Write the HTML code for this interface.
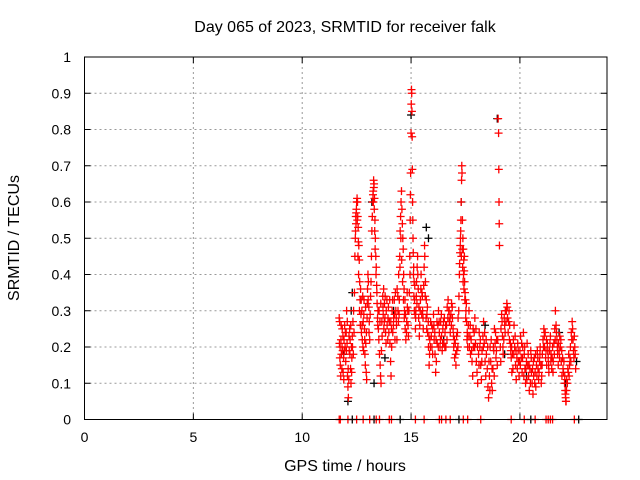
<!DOCTYPE html>
<html><head><meta charset="utf-8"><style>
body{margin:0;background:#fff}
svg{display:block;font-family:"Liberation Sans",sans-serif}
</style></head><body>
<svg id="chart" width="640" height="480" viewBox="0 0 640 480">
<rect width="640" height="480" fill="#fff"/>
<text x="345" y="32" font-size="16" text-anchor="middle">Day 065 of 2023, SRMTID for receiver falk</text>
<text transform="translate(19,238) rotate(-90)" font-size="16" text-anchor="middle">SRMTID / TECUs</text>
<text x="345" y="471" font-size="16" text-anchor="middle">GPS time / hours</text>
<g id="grid"></g>
<g id="ticks"></g>
<g id="black"></g>
<g id="red"></g>
<rect x="84.5" y="57" width="522.5" height="362.5" fill="none" stroke="#000" stroke-width="1"/>
</svg>
<script>
const xTicks=[0,5,10,15,20];
const yTicks=[0,0.1,0.2,0.3,0.4,0.5,0.6,0.7,0.8,0.9,1];
const yTickLabels=["0","0.1","0.2","0.3","0.4","0.5","0.6","0.7","0.8","0.9","1"];
const redPoints=[[11.70,.28],[11.72,.27],[11.74,.2],[11.75,.15],[11.77,.12],[11.78,.22],[11.80,.18],[11.82,.14],[11.84,.25],[11.86,.19],[11.88,.13],[11.90,.17],[11.92,.22],[11.95,.26],[11.97,.2],[12.0,.16],[12.02,.24],[12.04,.3],[12.06,.21],[12.08,.12],[12.1,.09],[12.12,.06],[12.14,.11],[12.16,.19],[12.18,.25],[12.2,.22],[12.22,.14],[12.24,.1],[12.26,.2],[12.28,.17],[12.3,.23],[12.33,.27],[12.36,.3],[12.38,.24],
[12.40,.35],[12.42,.45],[12.44,.5],[12.45,.52],[12.46,.56],[12.47,.54],[12.48,.57],[12.5,.6],[12.52,.61],[12.54,.6],[12.55,.56],[12.57,.53],[12.58,.49],[12.6,.48],[12.62,.44],[12.64,.38],[12.66,.33],[12.68,.36],[12.7,.29],[12.72,.24],
[12.74,.3],[12.76,.22],[12.78,.34],[12.8,.27],[12.82,.19],[12.84,.33],[12.86,.25],[12.88,.18],[12.9,.15],[12.92,.21],[12.94,.13],[12.96,.11],[12.98,.28],[13.0,.36],[13.02,.4],[13.04,.38],[13.06,.31],[13.08,.27],[13.1,.22],
[13.12,.29],[13.14,.34],[13.16,.38],[13.18,.45],[13.2,.52],[13.22,.56],[13.24,.6],[13.26,.63],[13.28,.66],[13.3,.65],[13.32,.61],[13.34,.55],[13.36,.5],[13.38,.45],[13.4,.42],[13.42,.37],[13.44,.32],[13.46,.28],[13.48,.3],[13.5,.25],
[13.52,.22],[13.55,.18],[13.58,.15],[13.6,.12],[13.62,.1],[13.64,.19],[13.66,.27],[13.7,.34],[13.72,.29],[13.75,.25],[13.78,.32],[13.8,.28],[13.83,.24],[13.86,.3],[13.9,.26],[13.93,.22],[13.96,.31],[14.0,.27],[14.03,.21],[14.06,.16],[14.08,.12],[14.1,.25],[14.13,.3],[14.16,.24],[14.2,.28],
[14.23,.33],[14.26,.22],[14.3,.3],[14.33,.26],[14.36,.36],[14.4,.3],[14.43,.4],[14.46,.33],[14.48,.45],[14.5,.52],[14.52,.56],[14.54,.6],[14.56,.63],[14.58,.58],[14.6,.54],[14.62,.5],[14.64,.47],[14.66,.4],[14.68,.36],[14.7,.3],[14.73,.25],[14.76,.22],[14.8,.27],[14.83,.31],[14.86,.26],[14.9,.3],
[14.92,.35],[14.94,.45],[14.96,.55],[14.98,.68],[15.0,.79],[15.01,.87],[15.02,.91],[15.03,.9],[15.04,.85],[15.05,.78],[15.06,.69],[15.07,.6],[15.08,.55],[15.09,.5],[15.1,.46],[15.12,.42],[15.14,.38],[15.16,.33],[15.18,.29],[15.2,.25],
[15.22,.3],[15.25,.38],[15.28,.42],[15.3,.45],[15.33,.36],[15.36,.31],[15.4,.26],[15.43,.33],[15.46,.4],[15.5,.35],[15.53,.3],[15.56,.25],[15.6,.42],[15.63,.45],[15.66,.38],[15.7,.33],[15.73,.29],[15.76,.24],[15.8,.2],[15.83,.15],[15.86,.22],
[15.9,.27],[15.93,.23],[15.96,.2],[16.0,.25],[16.03,.29],[16.06,.22],[16.1,.18],[16.13,.13],[16.16,.16],[16.2,.21],[16.23,.26],[16.26,.3],[16.3,.24],[16.33,.2],[16.36,.27],[16.4,.23],[16.43,.19],[16.46,.25],[16.5,.21],[16.53,.28],[16.56,.24],[16.6,.2],
[16.63,.26],[16.66,.31],[16.7,.33],[16.73,.3],[16.76,.27],[16.8,.24],[16.83,.29],[16.86,.32],[16.9,.28],[16.93,.25],[16.96,.2],[17.0,.17],[17.03,.21],[17.06,.15],[17.1,.19],[17.13,.24],[17.16,.28],[17.2,.34],
[17.22,.4],[17.25,.46],[17.27,.5],[17.29,.55],[17.3,.6],[17.32,.66],[17.33,.7],[17.34,.68],[17.36,.55],[17.38,.5],[17.4,.47],[17.42,.44],[17.44,.41],[17.46,.38],[17.48,.35],[17.5,.33],[17.52,.3],[17.55,.27],[17.58,.24],[17.6,.2],
[17.63,.26],[17.66,.3],[17.7,.23],[17.73,.18],[17.76,.22],[17.8,.16],[17.83,.12],[17.86,.2],[17.9,.24],[17.93,.28],[17.96,.21],[18.0,.16],[18.03,.13],[18.06,.1],[18.1,.18],[18.13,.24],[18.16,.2],[18.2,.15],[18.23,.11],[18.26,.19],[18.3,.23],[18.33,.27],[18.36,.21],[18.4,.16],[18.43,.12],
[18.46,.18],[18.5,.14],[18.53,.09],[18.56,.06],[18.6,.12],[18.63,.2],[18.66,.16],[18.7,.1],[18.73,.08],[18.76,.14],[18.8,.19],[18.83,.25],[18.86,.21],[18.9,.17],[18.93,.22],[18.96,.15],
[19.0,.83],[19.02,.79],[19.03,.69],[19.04,.6],[19.05,.54],[19.06,.48],
[19.1,.2],[19.13,.25],[19.16,.29],[19.2,.23],[19.23,.18],[19.26,.22],[19.3,.26],[19.33,.3],[19.36,.27],[19.4,.32],[19.43,.28],[19.46,.24],[19.5,.3],[19.53,.26],[19.56,.21],[19.6,.17],[19.63,.13],[19.66,.18],[19.7,.22],[19.73,.26],[19.76,.2],[19.8,.15],[19.83,.11],[19.86,.17],[19.9,.21],[19.93,.16],[19.96,.12],
[20.0,.19],[20.03,.23],[20.06,.17],[20.1,.13],[20.13,.2],[20.16,.24],[20.2,.18],[20.23,.14],[20.26,.1],[20.3,.16],[20.33,.21],[20.36,.15],[20.4,.12],[20.43,.08],[20.46,.14],[20.5,.19],[20.53,.13],[20.56,.1],[20.6,.07],[20.63,.12],[20.66,.17],[20.7,.13],[20.73,.09],[20.76,.15],[20.8,.19],[20.83,.14],[20.86,.11],[20.9,.16],[20.93,.2],[20.96,.15],
[21.0,.12],[21.03,.18],[21.06,.22],[21.1,.25],[21.13,.2],[21.16,.24],[21.2,.19],[21.23,.15],[21.26,.21],[21.3,.17],[21.33,.13],[21.36,.19],[21.4,.23],[21.43,.18],[21.46,.14],[21.5,.2],[21.53,.16],[21.56,.21],[21.6,.25],[21.63,.3],[21.66,.26],[21.7,.22],[21.73,.18],[21.76,.15],[21.8,.19],[21.83,.23],[21.86,.2],[21.9,.16],[21.93,.12],[21.96,.17],
[22.0,.13],[22.05,.1],[22.08,.08],[22.1,.06],[22.12,.05],[22.15,.11],[22.2,.14],[22.24,.18],[22.28,.15],[22.32,.2],[22.36,.24],[22.4,.27],[22.44,.22],[22.48,.17],[22.52,.2],[22.56,.14],
[11.7,0],[11.75,0],[12.1,0],[12.5,0],[12.8,0],[13.1,0],[13.4,0],[13.55,0],[14.0,0],[14.1,0],[15.2,0],[15.6,0],[16.3,0],[16.4,0],[16.6,0],[16.8,0],[17.4,0],[17.6,0],[18.2,0],[19.6,0],[20.2,0],[20.7,0],[21.2,0],[21.3,0],[21.4,0],[21.5,0],[22.5,0]];
const redExtra=[[11.71,.21],[11.73,.17],[11.79,.26],[11.83,.2],[11.87,.23],[11.91,.11],[11.94,.19],[11.98,.24],[12.03,.19],[12.07,.27],[12.11,.14],[12.15,.23],[12.19,.18],[12.23,.26],[12.27,.13],[12.31,.2],[12.35,.18],
[12.49,.58],[12.51,.6],[12.53,.55],[12.56,.45],[12.59,.4],[12.63,.3],[12.67,.26],[12.71,.33],[12.75,.26],[12.79,.2],[12.83,.29],[12.87,.22],[12.91,.31],[12.95,.24],[12.99,.32],[13.03,.33],[13.07,.24],
[13.25,.62],[13.27,.6],[13.29,.64],[13.31,.58],[13.33,.52],[13.35,.47],[13.39,.4],[13.43,.35],[13.47,.26],[13.53,.3],[13.57,.27],[13.61,.32],[13.67,.23],[13.71,.31],[13.74,.36],[13.77,.27],[13.81,.34],[13.85,.21],[13.89,.33],[13.94,.28],[13.98,.24],[14.02,.33],[14.07,.27],[14.11,.2],[14.15,.33],[14.19,.26],
[14.24,.29],[14.28,.35],[14.32,.28],[14.35,.22],[14.39,.34],[14.42,.27],[14.45,.29],[14.49,.42],[14.53,.5],[14.57,.44],[14.61,.38],[14.65,.33],[14.69,.28],[14.72,.33],[14.75,.29],[14.79,.24],[14.82,.35],[14.85,.3],[14.88,.23],
[14.95,.4],[14.97,.62],[15.11,.4],[15.13,.34],[15.15,.3],[15.17,.37],[15.21,.28],[15.24,.34],[15.27,.32],[15.31,.4],[15.35,.28],[15.38,.23],[15.42,.3],[15.45,.36],[15.49,.29],[15.52,.34],[15.55,.28],[15.58,.37],[15.62,.48],[15.65,.34],[15.69,.28],[15.72,.25],[15.75,.31],[15.79,.27],[15.82,.23],[15.85,.18],
[15.89,.2],[15.95,.26],[15.99,.18],[16.05,.26],[16.09,.24],[16.15,.22],[16.19,.27],[16.25,.2],[16.29,.27],[16.35,.22],[16.39,.29],[16.45,.21],[16.49,.27],[16.55,.2],[16.59,.26],[16.65,.22],[16.69,.28],[16.75,.3],[16.79,.28],[16.85,.26],[16.89,.31],[16.95,.23],[16.99,.22],[17.05,.18],[17.09,.23],[17.15,.2],[17.19,.3],
[17.23,.43],[17.26,.48],[17.28,.52],[17.31,.45],[17.35,.47],[17.37,.42],[17.39,.38],[17.41,.4],[17.43,.36],[17.45,.45],[17.47,.33],[17.51,.28],[17.54,.32],[17.57,.22],[17.62,.23],[17.68,.2],[17.72,.26],[17.78,.19],[17.85,.25],[17.92,.2],[17.98,.25],[18.05,.2],[18.12,.15],[18.18,.22],[18.25,.16],[18.32,.2],[18.38,.24],[18.45,.22],
[18.52,.2],[18.58,.16],[18.62,.08],[18.68,.22],[18.72,.14],[18.78,.2],[18.82,.12],[18.88,.24],[18.92,.19],[18.98,.22],[19.12,.16],[19.18,.27],[19.22,.2],[19.28,.28],[19.32,.24],[19.38,.3],[19.42,.31],[19.48,.27],[19.52,.22],[19.58,.19],[19.62,.2],[19.68,.14],[19.72,.18],[19.78,.23],[19.82,.19],[19.88,.14],[19.92,.19],[19.98,.16],
[20.02,.15],[20.08,.21],[20.12,.17],[20.18,.12],[20.22,.2],[20.28,.14],[20.32,.11],[20.38,.18],[20.42,.15],[20.48,.1],[20.52,.17],[20.58,.14],[20.62,.16],[20.68,.1],[20.72,.18],[20.78,.12],[20.82,.17],[20.88,.13],[20.92,.18],[20.98,.1],
[21.02,.15],[21.08,.2],[21.12,.23],[21.18,.17],[21.22,.22],[21.28,.19],[21.32,.15],[21.38,.21],[21.42,.16],[21.48,.17],[21.52,.13],[21.58,.18],[21.62,.22],[21.68,.24],[21.72,.2],[21.78,.21],[21.82,.17],[21.88,.22],[21.92,.19],[21.98,.14],
[22.02,.16],[22.06,.12],[22.09,.07],[22.11,.05],[22.14,.08],[22.18,.1],[22.22,.13],[22.26,.12],[22.3,.17],[22.34,.16],[22.38,.22],[22.42,.25],[22.46,.19],[22.5,.23],[22.54,.18]];
const blackPoints=[[12.3,.35],[12.25,.3],[13.2,.6],[13.3,.1],[15.0,.84],[15.7,.53],[15.8,.5],[18.96,.83],[17.3,.6],[12.1,.05],[14.2,.3],[16.5,.22],[18.4,.26],[19.3,.18],[20.3,.12],[21.8,.24],[22.1,.1],[22.6,.16],[11.9,.18],[13.8,.17],[12.3,0],[13.3,0],[14.5,0],[17.2,0],[20.5,0],[22.7,0]];

const X0=84.5,X1=607,Y0=419.5,Y1=57,XMAX=24;
const sx=v=>X0+v*(X1-X0)/XMAX;
const sy=v=>Y0-v*(Y0-Y1);
const NS="http://www.w3.org/2000/svg";
function mk(tag,attrs,parent){const e=document.createElementNS(NS,tag);for(const k in attrs)e.setAttribute(k,attrs[k]);parent.appendChild(e);return e;}
const grid=document.getElementById('grid'),ticks=document.getElementById('ticks');
xTicks.forEach(t=>{
  const x=sx(t);
  if(t>0){const g=mk('line',{x1:x,x2:x,y1:Y1,y2:Y0,stroke:'#999','stroke-dasharray':'2,3'},grid);
  
  }
  mk('line',{x1:x,x2:x,y1:Y0,y2:Y0-6,stroke:'#000'},ticks);
  mk('line',{x1:x,x2:x,y1:Y1,y2:Y1+6,stroke:'#000'},ticks);
  const l=mk('text',{x:x,y:442,'font-size':14,'text-anchor':'middle'},ticks);
  l.textContent=t;
  
  
});
yTicks.forEach((t,i)=>{
  const y=sy(t);
  if(t>0&&t<1){const g=mk('line',{x1:X0,x2:X1,y1:y,y2:y,stroke:'#999','stroke-dasharray':'2,3'},grid);
  
  }
  mk('line',{x1:X0,x2:X0+6,y1:y,y2:y,stroke:'#000'},ticks);
  mk('line',{x1:X1,x2:X1-6,y1:y,y2:y,stroke:'#000'},ticks);
  const l=mk('text',{x:71,y:y+5,'font-size':14,'text-anchor':'end'},ticks);
  l.textContent=yTickLabels[i];
  
  
});
function plus(pts,g,col,name){
  pts.forEach(p=>{
    const x=sx(p[0]),y=sy(p[1]);
    const e=mk('path',{d:`M${x-4},${y}H${x+4}M${x},${y-4}V${y+4}`,stroke:col,'stroke-width':1.3,fill:'none'},g);
    
    
  });
}
plus(blackPoints,document.getElementById('black'),'#000','black-point');
plus(redPoints,document.getElementById('red'),'#f00','red-point');
plus(redExtra,document.getElementById('red'),'#f00','red-point');
</script>
</body></html>
